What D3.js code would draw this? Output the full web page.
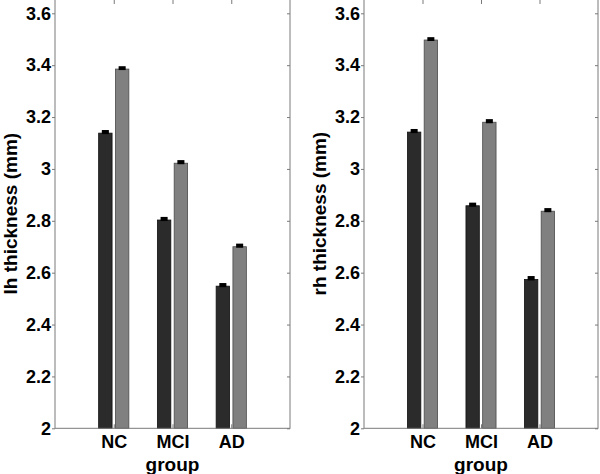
<!DOCTYPE html>
<html>
<head>
<meta charset="utf-8">
<script src="https://cdn.jsdelivr.net/npm/d3@7"></script>
<style>
  body { margin: 0; background: #fff; }
  svg { display: block; }
</style>
</head>
<body>
<script>
// groups on the x axis
var groups = ["NC", "MCI", "AD"];
var yTicks = [2, 2.2, 2.4, 2.6, 2.8, 3, 3.2, 3.4, 3.6];

// left hemisphere (two bars per group)
var lhDark = [3.138, 2.803, 2.548];
var lhGray = [3.385, 3.022, 2.700];
var lhDarkErr = [0.012, 0.012, 0.012];
var lhGrayErr = [0.011, 0.012, 0.012];

// right hemisphere
var rhDark = [3.142, 2.858, 2.574];
var rhGray = [3.497, 3.180, 2.837];
var rhDarkErr = [0.012, 0.012, 0.013];
var rhGrayErr = [0.011, 0.012, 0.012];

function makePlot(){

    const width = 600;
    const height = 474;
    const top = -1;
    const bottom = 428.3;
    const fontFam = "'Liberation Sans', Arial, Helvetica, sans-serif";

    const svg = d3.create("svg")
        .attr("width", width)
        .attr("height", height)
        .attr("viewBox", [0, 0, width, height]);
    document.body.appendChild(svg.node());

    const y = d3.scaleLinear()
        .domain([2, 3.6])
        .range([bottom, 13.3]);

    // matlab style grouped bars: offset +-1/7, width 0.2286
    const offs = [-1/7, 1/7];
    const barW = 0.8 * (2 / 3.5) / 2;
    const capW = 0.12;

    function panel(left, right, dark, gray, darkErr, grayErr, ylabel, labelX){

        const x = d3.scaleLinear()
            .domain([0, 4])
            .range([left, right]);

        const g = svg.append("g");

        const series = [
            {vals: dark, errs: darkErr, fill: "#2b2b2b", stroke: "#111111", off: offs[0]},
            {vals: gray, errs: grayErr, fill: "#808080", stroke: "#4a4a4a", off: offs[1]}
        ];

        series.forEach(s => {
            var rows = groups.map((name, i) => ({i: i + 1, v: s.vals[i], e: s.errs[i]}));

            g.append("g")
                .selectAll()
                .data(rows)
                .join("rect")
                .attr("x", d => x(d.i + s.off - barW / 2))
                .attr("width", d => x(d.i + s.off + barW / 2) - x(d.i + s.off - barW / 2))
                .attr("y", d => y(d.v))
                .attr("height", d => y(2) - y(d.v))
                .attr("fill", s.fill)
                .attr("stroke", s.stroke)
                .attr("stroke-width", 0.8);

            // error caps (thick black)
            g.append("g")
                .selectAll()
                .data(rows)
                .join("rect")
                .attr("x", d => x(d.i + s.off - capW / 2))
                .attr("width", d => x(d.i + s.off + capW / 2) - x(d.i + s.off - capW / 2))
                .attr("y", d => y(d.v + d.e))
                .attr("height", d => y(d.v) - y(d.v + d.e) + 1)
                .attr("fill", "#000");
        });

        // frame
        g.append("rect")
            .attr("x", left)
            .attr("y", top)
            .attr("width", right - left)
            .attr("height", bottom - top)
            .attr("fill", "none")
            .attr("stroke", "#7a7a7a")
            .attr("stroke-width", 1);

        // left axis
        g.append("g")
            .attr("transform", `translate(${left},0)`)
            .call(d3.axisLeft(y).tickValues(yTicks).tickSize(3).tickPadding(1)
                .tickFormat(d => String(+d.toFixed(1))))
            .call(a => a.select(".domain").remove())
            .call(a => a.selectAll("line").attr("stroke", "#7a7a7a"))
            .call(a => a.selectAll("text")
                .attr("font-family", fontFam)
                .attr("font-weight", "bold")
                .attr("font-size", 18)
                .attr("fill", "#000"));

        // right ticks
        g.append("g")
            .attr("transform", `translate(${right},0)`)
            .call(d3.axisRight(y).tickValues(yTicks).tickSize(-3).tickFormat(""))
            .call(a => a.select(".domain").remove())
            .call(a => a.selectAll("line").attr("stroke", "#7a7a7a"));

        // top ticks
        g.append("g")
            .attr("transform", `translate(0,${top})`)
            .call(d3.axisTop(x).tickValues([1, 2, 3]).tickSize(-5).tickFormat(""))
            .call(a => a.select(".domain").remove())
            .call(a => a.selectAll("line").attr("stroke", "#7a7a7a"));

        // bottom axis
        g.append("g")
            .attr("transform", `translate(0,${bottom})`)
            .call(d3.axisBottom(x).tickValues([1, 2, 3]).tickSize(-4).tickPadding(7)
                .tickFormat(d => groups[d - 1]))
            .call(a => a.select(".domain").remove())
            .call(a => a.selectAll("line").attr("stroke", "#7a7a7a"))
            .call(a => a.selectAll("text")
                .attr("font-family", fontFam)
                .attr("font-weight", "bold")
                .attr("font-size", 18)
                .attr("fill", "#000"));

        // x label
        g.append("text")
            .attr("x", (left + right) / 2)
            .attr("y", 470.5)
            .attr("text-anchor", "middle")
            .attr("font-family", fontFam)
            .attr("font-weight", "bold")
            .attr("font-size", 19)
            .text("group");

        // y label
        g.append("text")
            .attr("transform", `translate(${labelX},${(top + bottom) / 2}) rotate(-90)`)
            .attr("text-anchor", "middle")
            .attr("font-family", fontFam)
            .attr("font-weight", "bold")
            .attr("font-size", 19)
            .text(ylabel);
    }

    panel(55, 290, lhDark, lhGray, lhDarkErr, lhGrayErr, "lh thickness (mm)", 17);
    panel(364, 598, rhDark, rhGray, rhDarkErr, rhGrayErr, "rh thickness (mm)", 325.5);

    return svg.node();
}

makePlot();
</script>
</body>
</html>
